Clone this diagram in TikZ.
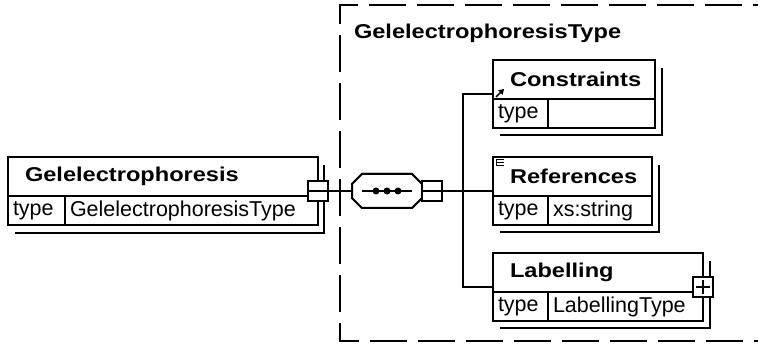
\documentclass[tikz,border=0pt]{standalone}
\usepackage{fontspec}
\setmainfont{Liberation Sans}
\newfontfamily\boxfont{Liberation Sans}[FakeStretch=1.18]
\usetikzlibrary{positioning,arrows.meta}

\begin{document}
\begin{tikzpicture}[x=1pt,y=-1pt,line width=2pt]
  \tikzset{
    hdr/.style={draw, fill=white, anchor=north west, outer sep=0pt, minimum height=39pt,
      inner xsep=17pt, inner ysep=1pt, align=left, text width=#1,
      font=\boxfont\bfseries\fontsize{20}{22}\selectfont},
    cell/.style={draw, fill=white, anchor=north west, outer sep=0pt, minimum height=29pt,
      inner xsep=5pt, inner ysep=1pt, align=left, text width=#1,
      font=\fontsize{21.5}{24}\selectfont},
    shade/.style={line width=1.5pt},
    togglebox/.style={draw, fill=white, outer sep=0pt, minimum size=20pt, inner sep=0pt},
  }
  \useasboundingbox (0,0) rectangle (758,347);

  % complex type frame
  \draw[dash pattern=on 37pt off 11pt, line width=2.5pt] (790,5) -- (340,5) -- (340,341) -- (790,341);
  \node[anchor=west, inner sep=0pt, font=\boxfont\bfseries\fontsize{20}{22}\selectfont] (typename) at (353,33) {GelelectrophoresisType};

  % shadows
  \draw[shade] (324,165) -- (324,233) -- (15,233);
  \draw[shade] (662,68) -- (662,135) -- (500,135);
  \draw[shade] (659,165) -- (659,232) -- (500,232);
  \draw[shade] (710,261) -- (710,328) -- (500,328);

  % elements
  \node[hdr=276pt] (gel) at (8,157) {Gelelectrophoresis};
  \node[cell=47pt] (geltype) at (gel.south west) {type};
  \node[cell=243pt] (gelval) at (geltype.north east) {GelelectrophoresisType};

  \node[hdr=128pt] (cons) at (493,60) {Constraints};
  \node[cell=45pt] (constype) at (cons.south west) {type};
  \node[cell=97pt] (consval) at (constype.north east) {};

  \node[hdr=125pt] (refs) at (493,157) {References};
  \node[cell=45pt] (refstype) at (refs.south west) {type};
  \node[cell=94pt] (refsval) at (refstype.north east) {xs:string};

  \node[hdr=176pt] (lab) at (493,253) {Labelling};
  \node[cell=45pt] (labtype) at (lab.south west) {type};
  \node[cell=145pt] (labval) at (labtype.north east) {LabellingType};

  % sequence compositor
  \node[minimum width=70pt, minimum height=34pt, inner sep=0pt, outer sep=0pt] (seq) at (387,191) {};
  \begin{scope}[xshift=7pt, yshift=-8pt]
    \draw[fill=white] ([xshift=10pt]seq.north west) -- ([xshift=-10pt]seq.north east)
      -- ([yshift=-10pt]seq.north east) -- ([yshift=10pt]seq.south east)
      -- ([xshift=-10pt]seq.south east) -- ([xshift=10pt]seq.south west)
      -- ([yshift=10pt]seq.south west) -- ([yshift=-10pt]seq.north west) -- cycle;
  \end{scope}
  \draw[fill=white] ([xshift=10pt]seq.north west) -- ([xshift=-10pt]seq.north east)
    -- ([yshift=-10pt]seq.north east) -- ([yshift=10pt]seq.south east)
    -- ([xshift=-10pt]seq.south east) -- ([xshift=10pt]seq.south west)
    -- ([yshift=10pt]seq.south west) -- ([yshift=-10pt]seq.north west) -- cycle;
  \draw ([xshift=10pt]seq.west) -- ([xshift=-10pt]seq.east);
  \fill ([xshift=-11pt]seq.center) circle (3.5pt) (seq.center) circle (3.5pt)
    ([xshift=11pt]seq.center) circle (3.5pt);

  % expand/collapse boxes
  \node[togglebox] (gelminus) at ([yshift=5pt]gel.south east) {};
  \node[togglebox, anchor=west] (seqminus) at (seq.east) {};
  \node[togglebox] (labplus) at ([yshift=5pt]lab.south east) {};
  \draw ([yshift=-3pt]labplus.north) -- ([yshift=3pt]labplus.south)
    ([xshift=3pt]labplus.west) -- ([xshift=-3pt]labplus.east);

  % connectors
  \coordinate (bus) at (463,191);
  \draw (gelminus.west) -- (seq.west);
  \draw (seq.east) -- ([yshift=5pt]refs.south west);
  \draw ([yshift=5pt]cons.south west) -| (bus) |- ([yshift=5pt]lab.south west);

  % small markers
  \draw[line width=1.5pt, -{Triangle[length=5pt,width=6pt]}] ([shift={(3pt,2pt)}]cons.south west) -- ++(8,-8);
  \draw[line width=1pt] ([shift={(3pt,-3pt)}]refs.north west) -- ++(8,0)
    ([shift={(3pt,-6pt)}]refs.north west) -- ++(8,0)
    ([shift={(3pt,-9pt)}]refs.north west) -- ++(8,0)
    ([shift={(3pt,-3pt)}]refs.north west) -- ++(0,6);
\end{tikzpicture}
\end{document}
